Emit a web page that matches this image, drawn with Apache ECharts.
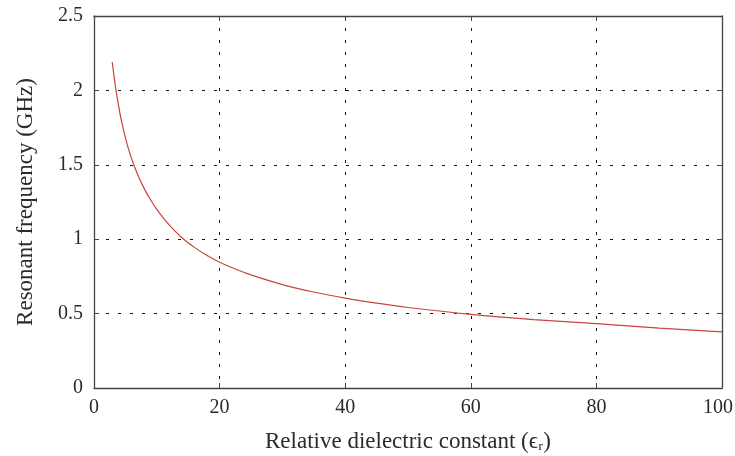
<!DOCTYPE html>
<html>
<head>
<meta charset="utf-8">
<script src="https://cdn.jsdelivr.net/npm/echarts@6/dist/echarts.min.js"></script>
<style>
  html, body { margin: 0; padding: 0; background: #fff; }
  #chart { width: 735px; height: 456px; }
</style>
</head>
<body>
<div id="chart"></div>
<script>
// values
const permittivity = [2.9, 3.4, 3.9, 4.4, 4.9, 5.5, 6.2, 7, 8, 9, 10, 11, 12, 14, 16, 18, 20, 22, 25, 30, 35, 40, 45, 50, 60, 70, 80, 90, 100];
const frequency = [2.19, 2.03, 1.9, 1.79, 1.7, 1.605, 1.515, 1.43, 1.34, 1.265, 1.2, 1.145, 1.095, 1.01, 0.945, 0.89, 0.845, 0.808, 0.76, 0.695, 0.645, 0.604, 0.57, 0.541, 0.495, 0.46, 0.432, 0.403, 0.377];
const xTicks = { min: 0, max: 100, step: 20 };
const yTicks = { min: 0, max: 2.5, step: 0.5 };

const serif = "'Liberation Serif', 'DejaVu Serif', serif";
const ink = "#2b2b2b";
const gridLine = { show: true, lineStyle: { color: "#111", width: 1, type: [3, 9] } };
const frame = { show: true, onZero: false, lineStyle: { color: "#444", width: 1.3 } };
const tick = { show: true, inside: true, length: 5, lineStyle: { color: "#444" } };
const labelFont = { color: ink, fontFamily: serif, fontSize: 20 };
const nameFont = { color: ink, fontFamily: serif, fontSize: 23 };

const chart = echarts.init(document.getElementById("chart"));
chart.setOption({
    animation: false,
    grid: { left: 94, right: 13, top: 16, bottom: 68, outerBoundsMode: "none", containLabel: false },
    xAxis: [
        {
            type: "value",
            min: xTicks.min,
            max: xTicks.max,
            interval: xTicks.step,
            axisLine: frame,
            axisTick: tick,
            splitLine: gridLine,
            axisLabel: {
                ...labelFont,
                margin: 10,
                formatter: (v) => (v === xTicks.max ? `{last|${v}}` : `${v}`),
                rich: { last: { ...labelFont, padding: [0, 8, 0, 0] } },
            },
            name: "Relative dielectric constant (\u03f5\u1d63)",
            nameLocation: "middle",
            nameGap: 42,
            nameTextStyle: nameFont,
        },
        {
            type: "value",
            position: "top",
            min: xTicks.min,
            max: xTicks.max,
            interval: xTicks.step,
            axisLine: frame,
            axisTick: tick,
            splitLine: { show: false },
            axisLabel: { show: false },
        },
    ],
    yAxis: [
        {
            type: "value",
            min: yTicks.min,
            max: yTicks.max,
            interval: yTicks.step,
            axisLine: frame,
            axisTick: tick,
            splitLine: gridLine,
            axisLabel: { ...labelFont, margin: 11 },
            name: "Resonant frequency (GHz)",
            nameLocation: "middle",
            nameGap: 57,
            nameTextStyle: nameFont,
        },
        {
            type: "value",
            position: "right",
            min: yTicks.min,
            max: yTicks.max,
            interval: yTicks.step,
            axisLine: frame,
            axisTick: tick,
            splitLine: { show: false },
            axisLabel: { show: false },
        },
    ],
    series: [
        {
            type: "line",
            data: permittivity.map((e, i) => [e, frequency[i]]),
            smooth: 0.25,
            showSymbol: false,
            lineStyle: { color: "#c8453f", width: 1.2 },
        },
    ],
});
</script>
</body>
</html>
